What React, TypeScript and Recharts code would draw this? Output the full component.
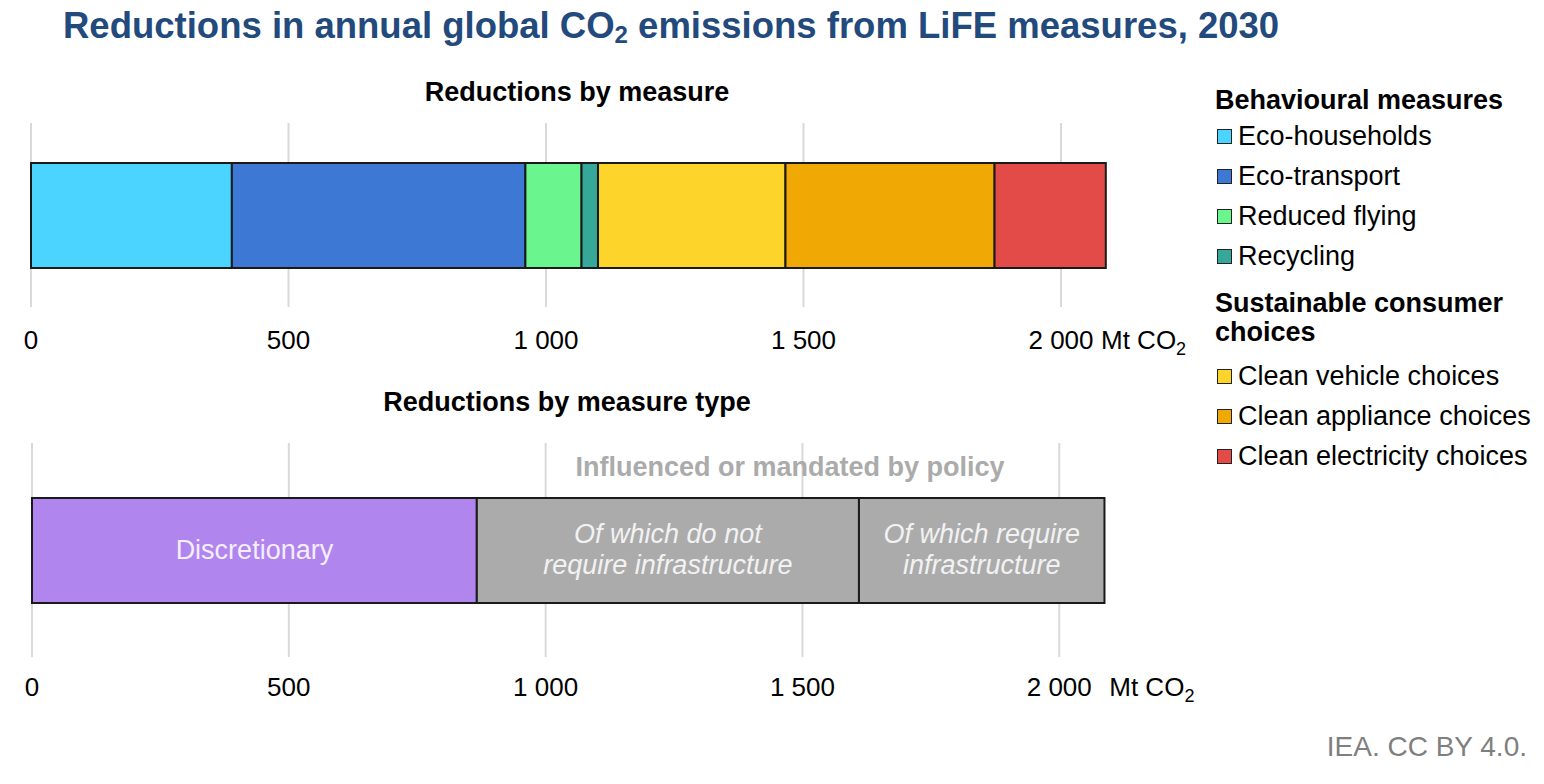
import { BarChart, Bar, XAxis, YAxis, CartesianGrid, LabelList } from "recharts";

// Reductions by measure (Mt CO2, 2030)
const measureNames = [
  "Eco-households",
  "Eco-transport",
  "Reduced flying",
  "Recycling",
  "Clean vehicle choices",
  "Clean appliance choices",
  "Clean electricity choices",
];
const measureValues = [390, 570, 109, 32, 364, 406, 216];
const measureColors = ["#4AD4FF", "#3C78D4", "#6AF58F", "#36A89A", "#FDD42A", "#F0A804", "#E34B48"];

const behaviouralCount = 4; // first four measures are behavioural

// Reductions by measure type
const typeKeys = ["discretionary", "noInfra", "infra"];
const typeValues = [866, 744, 478];
const typeColors = ["#B085EE", "#ABABAB", "#ABABAB"];
const typeLabels = [
  ["Discretionary"],
  ["Of which do not", "require infrastructure"],
  ["Of which require", "infrastructure"],
];
const typeItalic = [false, true, true];

const xTicks = [0, 500, 1000, 1500, 2000];

const measureData = [
  Object.fromEntries([["cat", "measure"], ...measureNames.map((n, i) => [n, measureValues[i]])]),
];
const typeData = [
  Object.fromEntries([["cat", "type"], ...typeKeys.map((k, i) => [k, typeValues[i]])]),
];

const font = "'Liberation Sans', Arial, sans-serif";

function fmt(v: number) {
  if (v < 1000) return String(v);
  return `${Math.floor(v / 1000)} ${String(v % 1000).padStart(3, "0")}`;
}

function makeTick(offset: number, unitGap: number) {
  return (props: any) => {
    const { x, y, payload } = props;
    const isLast = payload.value === xTicks[xTicks.length - 1];
    return (
      <g>
        <text x={x} y={y + offset} textAnchor="middle" fontSize={26} fill="#000">
          {fmt(payload.value)}
        </text>
        {isLast && (
          <text x={x + unitGap} y={y + offset} textAnchor="start" fontSize={26} fill="#000">
            Mt CO
            <tspan dy={6} fontSize={18}>
              2
            </tspan>
          </text>
        )}
      </g>
    );
  };
}

function typeLabel(i: number) {
  return (props: any) => {
    const { x, y, width, height } = props;
    const lines = typeLabels[i];
    const cx = x + width / 2;
    const cy = y + height / 2;
    const lh = 31;
    const start = cy - ((lines.length - 1) * lh) / 2 + 8;
    return (
      <text
        textAnchor="middle"
        fontSize={27}
        fill={i === 0 ? "#F4EEFF" : "#F2F2F2"}
        fontStyle={typeItalic[i] ? "italic" : "normal"}
      >
        {lines.map((l, j) => (
          <tspan key={j} x={cx} y={start + j * lh}>
            {l}
          </tspan>
        ))}
      </text>
    );
  };
}

function LegendItem({ color, label, top }: { color: string; label: string; top: number }) {
  return (
    <div style={{ position: "absolute", left: 1217, top: top - 16, height: 32, display: "flex", alignItems: "center" }}>
      <div
        style={{
          width: 13,
          height: 13,
          background: color,
          border: "1.5px solid #222",
          marginRight: 6,
        }}
      />
      <span style={{ fontSize: 27, color: "#000", whiteSpace: "nowrap" }}>{label}</span>
    </div>
  );
}

export default function App() {
  const behavioural = measureNames.slice(0, behaviouralCount);
  const consumer = measureNames.slice(behaviouralCount);
  return (
    <div
      style={{
        position: "absolute",
        left: 0,
        top: 0,
        width: 1544,
        height: 784,
        background: "#fff",
        fontFamily: font,
        overflow: "hidden",
      }}
    >
      <div
        style={{
          position: "absolute",
          left: 63,
          top: 5,
          fontSize: 36.5,
          fontWeight: "bold",
          color: "#234A7C",
          whiteSpace: "nowrap",
        }}
      >
        Reductions in annual global CO
        <span style={{ fontSize: 24, verticalAlign: "-0.2em" }}>2</span> emissions from LiFE measures, 2030
      </div>

      <div
        style={{
          position: "absolute",
          left: 577,
          top: 77,
          transform: "translateX(-50%)",
          fontSize: 27,
          fontWeight: "bold",
          whiteSpace: "nowrap",
        }}
      >
        Reductions by measure
      </div>

      <div style={{ position: "absolute", left: 0, top: 110 }}>
        <BarChart
          width={1220}
          height={260}
          data={measureData}
          layout="vertical"
          margin={{ top: 13, right: 56, bottom: 0, left: 31 }}
        >
          <CartesianGrid horizontal={false} stroke="#D9D9D9" strokeWidth={2} verticalValues={xTicks} />
          <XAxis
            type="number"
            domain={[0, 2200]}
            ticks={xTicks}
            axisLine={false}
            tickLine={false}
            tickSize={0}
            tickMargin={0}
            height={63}
            tick={makeTick(42, 40)}
            interval={0}
          />
          <YAxis type="category" dataKey="cat" hide width={0} />
          {measureNames.map((n, i) => (
            <Bar
              key={n}
              dataKey={n}
              stackId="a"
              fill={measureColors[i]}
              stroke="#1a1a1a"
              strokeWidth={2}
              barSize={105}
              isAnimationActive={false}
            />
          ))}
        </BarChart>
      </div>

      <div
        style={{
          position: "absolute",
          left: 567,
          top: 387,
          transform: "translateX(-50%)",
          fontSize: 27,
          fontWeight: "bold",
          whiteSpace: "nowrap",
        }}
      >
        Reductions by measure type
      </div>

      <div style={{ position: "absolute", left: 0, top: 430 }}>
        <BarChart
          width={1220}
          height={290}
          data={typeData}
          layout="vertical"
          margin={{ top: 13, right: 58, bottom: 0, left: 32 }}
        >
          <CartesianGrid horizontal={false} stroke="#D9D9D9" strokeWidth={2} verticalValues={xTicks} />
          <XAxis
            type="number"
            domain={[0, 2200]}
            ticks={xTicks}
            axisLine={false}
            tickLine={false}
            tickSize={0}
            tickMargin={0}
            height={63}
            tick={makeTick(39, 50)}
            interval={0}
          />
          <YAxis type="category" dataKey="cat" hide width={0} />
          {typeKeys.map((k, i) => (
            <Bar
              key={k}
              dataKey={k}
              stackId="a"
              fill={typeColors[i]}
              stroke="#1a1a1a"
              strokeWidth={2}
              barSize={105}
              isAnimationActive={false}
            >
              <LabelList dataKey={k} content={typeLabel(i)} />
            </Bar>
          ))}
        </BarChart>
      </div>

      <div
        style={{
          position: "absolute",
          left: 790,
          top: 452,
          transform: "translateX(-50%)",
          fontSize: 27,
          fontWeight: "bold",
          color: "#ABABAB",
          whiteSpace: "nowrap",
        }}
      >
        Influenced or mandated by policy
      </div>

      <div style={{ position: "absolute", left: 1215, top: 85, fontSize: 27, fontWeight: "bold", whiteSpace: "nowrap" }}>
        Behavioural measures
      </div>
      {behavioural.map((n, i) => (
        <LegendItem key={n} color={measureColors[i]} label={n} top={136 + i * 40} />
      ))}
      <div
        style={{
          position: "absolute",
          left: 1215,
          top: 289,
          fontSize: 27,
          fontWeight: "bold",
          lineHeight: "29px",
          width: 320,
        }}
      >
        Sustainable consumer choices
      </div>
      {consumer.map((n, i) => (
        <LegendItem
          key={n}
          color={measureColors[behaviouralCount + i]}
          label={n}
          top={376 + i * 40}
        />
      ))}

      <div
        style={{
          position: "absolute",
          right: 17,
          top: 731,
          fontSize: 28,
          color: "#7F7F7F",
          whiteSpace: "nowrap",
        }}
      >
        IEA. CC BY 4.0.
      </div>
    </div>
  );
}
